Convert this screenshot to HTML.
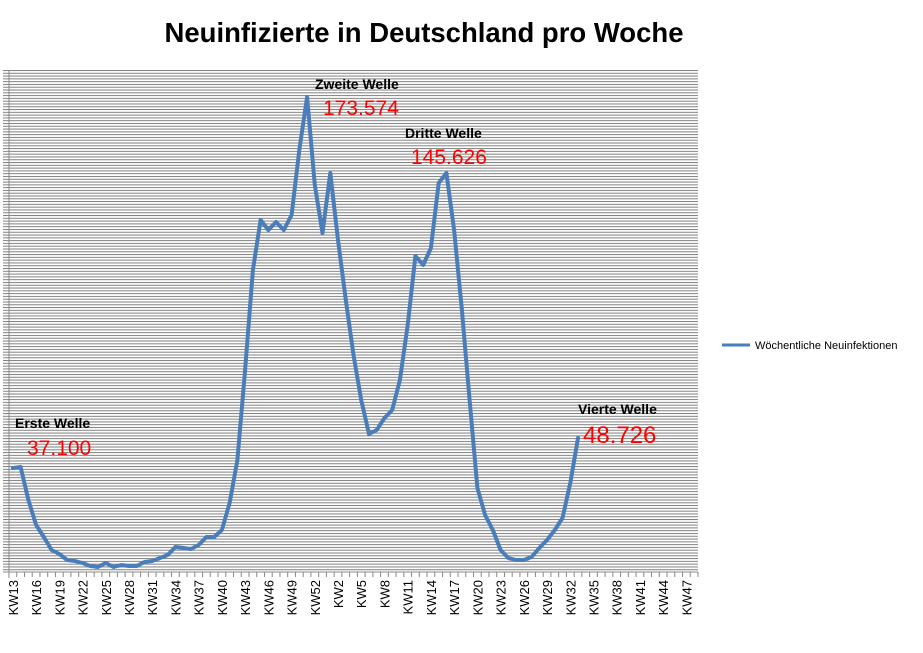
<!DOCTYPE html>
<html><head><meta charset="utf-8"><style>
body{margin:0;background:#fff;width:923px;height:653px;overflow:hidden}
svg{display:block;font-family:"Liberation Sans",sans-serif}
</style></head><body>
<svg id="s" width="923" height="653" viewBox="0 0 923 653">
<defs><pattern id="g" x="0" y="70" width="10" height="2.789" patternUnits="userSpaceOnUse"><rect x="0" y="0" width="10" height="1" fill="#808080"/></pattern></defs>
<rect x="9" y="70" width="689" height="502" fill="url(#g)"/>
<rect x="3" y="70" width="6" height="502" fill="url(#g)"/>
<line x1="9" y1="70" x2="9" y2="578" stroke="#888" stroke-width="1"/>
<line x1="3" y1="572" x2="698" y2="572" stroke="#888" stroke-width="1"/>
<g id="ticks" stroke="#888" stroke-width="1"></g>
<g id="labels" font-size="13" fill="#000"></g>
<polyline id="ln" fill="none" stroke="#4a7ebb" stroke-width="4" stroke-linejoin="round" stroke-linecap="round"/>
<text x="424" y="42" text-anchor="middle" font-size="27.5" font-weight="bold">Neuinfizierte in Deutschland pro Woche</text>
<text x="15" y="428" font-size="14" font-weight="bold">Erste Welle</text>
<text x="27" y="455" font-size="21" fill="#f00">37.100</text>
<text x="315" y="89" font-size="14" font-weight="bold">Zweite Welle</text>
<text x="323" y="115" font-size="21" fill="#f00">173.574</text>
<text x="405" y="138" font-size="14" font-weight="bold">Dritte Welle</text>
<text x="411" y="164" font-size="21" fill="#f00">145.626</text>
<text x="578" y="414" font-size="14" font-weight="bold">Vierte Welle</text>
<text x="583" y="443" font-size="24" fill="#f00">48.726</text>
<line x1="722" y1="345" x2="750" y2="345" stroke="#4a7ebb" stroke-width="3"/>
<text x="755" y="349" font-size="11">Wöchentliche Neuinfektionen</text>
</svg>
<script>
var ys=[468,467,500,525,537,550,554,560,561,563,566,567,563,567,565,566,566,562,561,558,555,547,548,549,545,537,537,530,503,460,370,270,220,230,222,230,215,150,97,185,233,173,240,300,355,400,434,430,418,410,380,325,256,265,248,183,173,230,310,400,488,515,530,550,558,560,560,557,548,540,530,518,483,438];
var w=689/89,pts=[];
for(var i=0;i<ys.length;i++)pts.push((9+w*(i+0.5)).toFixed(1)+","+ys[i]);
document.getElementById("ln").setAttribute("points",pts.join(" "));
var ns="http://www.w3.org/2000/svg",t=document.getElementById("ticks"),L=document.getElementById("labels");
for(var i=0;i<=89;i++){var l=document.createElementNS(ns,"line");var x=9+w*i;l.setAttribute("x1",x);l.setAttribute("x2",x);l.setAttribute("y1",572);l.setAttribute("y2",577);t.appendChild(l);}
for(var i=0;i<89;i+=3){var kw=i<=40?13+i:i-40;var x=9+w*(i+0.5)+5;var tx=document.createElementNS(ns,"text");tx.setAttribute("transform","translate("+x.toFixed(1)+",580) rotate(-90)");tx.setAttribute("text-anchor","end");tx.textContent="KW"+kw;L.appendChild(tx);}
</script>
</body></html>
